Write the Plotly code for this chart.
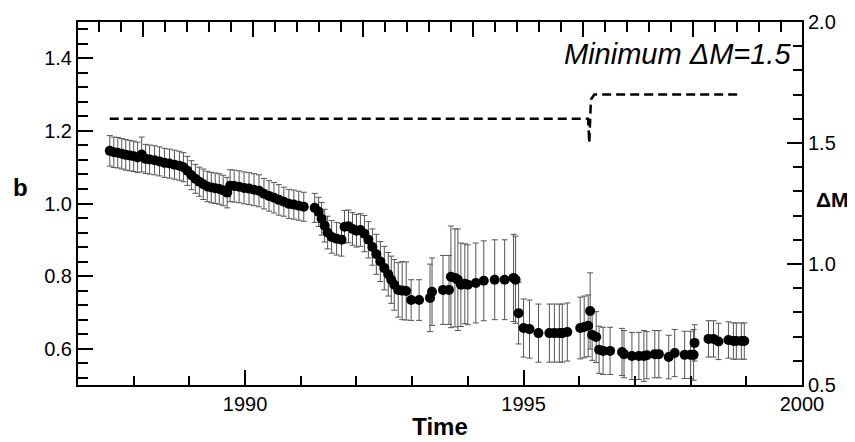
import plotly.graph_objects as go

# ---- data ----
time = [1987.571, 1987.643, 1987.714, 1987.786, 1987.857, 1987.929, 1988.000, 1988.071,
        1988.143, 1988.214, 1988.286, 1988.375, 1988.464, 1988.554, 1988.643, 1988.732,
        1988.821, 1988.893, 1988.964, 1989.036, 1989.107, 1989.179, 1989.250, 1989.321,
        1989.393, 1989.464, 1989.536, 1989.607, 1989.679, 1989.732, 1989.804, 1989.893,
        1989.982, 1990.071, 1990.161, 1990.250, 1990.339, 1990.429, 1990.518, 1990.607,
        1990.696, 1990.786, 1990.875, 1990.964, 1991.054,
        1991.250, 1991.321, 1991.375, 1991.429, 1991.482, 1991.554, 1991.643, 1991.732,
        1991.786, 1991.857, 1991.929, 1992.000, 1992.071, 1992.143, 1992.214, 1992.286,
        1992.357, 1992.429, 1992.500, 1992.571, 1992.625, 1992.679, 1992.750, 1992.821,
        1992.893,
        1992.982, 1993.125, 1993.321, 1993.357, 1993.554, 1993.661, 1993.696, 1993.768,
        1993.821, 1993.875, 1993.946, 1994.000, 1994.143, 1994.286, 1994.482, 1994.661,
        1994.821, 1994.857, 1994.911, 1995.000, 1995.107, 1995.268, 1995.464, 1995.554,
        1995.643, 1995.696, 1995.786, 1996.018, 1996.089, 1996.161, 1996.196, 1996.232,
        1996.304, 1996.357, 1996.429, 1996.554, 1996.768, 1996.804, 1996.946, 1997.071,
        1997.161, 1997.214, 1997.357, 1997.429, 1997.607, 1997.714, 1997.893, 1998.000,
        1998.054, 1998.071, 1998.321, 1998.411, 1998.500, 1998.679, 1998.768, 1998.821,
        1998.911, 1998.964]

b_value = [1.145, 1.141, 1.140, 1.137, 1.134, 1.132, 1.130, 1.127,
           1.135, 1.123, 1.121, 1.119, 1.116, 1.112, 1.110, 1.107,
           1.104, 1.100, 1.090, 1.078, 1.068, 1.060, 1.053, 1.047,
           1.044, 1.042, 1.040, 1.036, 1.030, 1.049, 1.048, 1.046,
           1.043, 1.041, 1.038, 1.035, 1.027, 1.021, 1.016, 1.010,
           1.005, 0.999, 0.997, 0.994, 0.991,
           0.988, 0.977, 0.958, 0.939, 0.920, 0.908, 0.903, 0.900,
           0.936, 0.937, 0.930, 0.925, 0.927, 0.917, 0.900, 0.880,
           0.860, 0.840, 0.822, 0.805, 0.790, 0.776, 0.762, 0.760,
           0.759,
           0.734, 0.734, 0.740, 0.757, 0.762, 0.762, 0.798, 0.795,
           0.790, 0.776, 0.779, 0.776, 0.781, 0.787, 0.790, 0.790,
           0.795, 0.790, 0.698, 0.657, 0.654, 0.643, 0.643, 0.643,
           0.643, 0.643, 0.646, 0.657, 0.660, 0.663, 0.704, 0.638,
           0.632, 0.597, 0.594, 0.594, 0.591, 0.585, 0.580, 0.580,
           0.580, 0.582, 0.585, 0.585, 0.577, 0.588, 0.583, 0.583,
           0.583, 0.616, 0.627, 0.627, 0.620, 0.624, 0.621, 0.621,
           0.621, 0.621]

b_error = [0.042, 0.042, 0.042, 0.042, 0.042, 0.042, 0.042, 0.042,
           0.048, 0.040, 0.040, 0.040, 0.040, 0.040, 0.040, 0.040,
           0.040, 0.040, 0.040, 0.040, 0.040, 0.040, 0.042, 0.042,
           0.042, 0.042, 0.042, 0.042, 0.042, 0.044, 0.044, 0.044,
           0.044, 0.044, 0.044, 0.044, 0.042, 0.042, 0.042, 0.042,
           0.040, 0.040, 0.040, 0.040, 0.040,
           0.040, 0.040, 0.045, 0.045, 0.045, 0.045, 0.045, 0.045,
           0.045, 0.045, 0.045, 0.045, 0.045, 0.050, 0.050, 0.050,
           0.055, 0.055, 0.060, 0.060, 0.065, 0.070, 0.075, 0.080,
           0.080,
           0.056, 0.056, 0.093, 0.093, 0.095, 0.095, 0.140, 0.135,
           0.140, 0.115, 0.110, 0.110, 0.110, 0.110, 0.110, 0.110,
           0.120, 0.120, 0.085, 0.080, 0.080, 0.080, 0.080, 0.080,
           0.080, 0.080, 0.080, 0.085, 0.085, 0.085, 0.105, 0.070,
           0.070, 0.065, 0.065, 0.065, 0.065, 0.065, 0.065, 0.065,
           0.070, 0.065, 0.065, 0.065, 0.060, 0.065, 0.065, 0.065,
           0.070, 0.050, 0.050, 0.050, 0.050, 0.050, 0.050, 0.050,
           0.050, 0.050]

dm_time = [1987.57, 1996.16, 1996.18, 1996.21, 1996.27, 1998.91]
dm_value = [1.60, 1.60, 1.50, 1.68, 1.70, 1.70]

x_ticks = [1990, 1995, 2000]
title_text = "<i>Minimum ΔM=1.5</i>"

FONT = "Liberation Sans, Arial, Helvetica, sans-serif"

fig = go.Figure()

fig.add_trace(go.Scatter(
    x=time, y=b_value, mode="markers",
    marker=dict(color="black", size=10),
    error_y=dict(type="data", array=b_error, visible=True,
                 color="#555555", thickness=1, width=3),
    showlegend=False, name="b",
))

fig.add_trace(go.Scatter(
    x=dm_time, y=dm_value, mode="lines", yaxis="y2",
    line=dict(color="black", width=2.5, dash="9px,5px"),
    showlegend=False, name="ΔM",
))

# invisible trace to activate the top axis
fig.add_trace(go.Scatter(x=[0], y=[1.0], xaxis="x2", mode="markers",
                         marker=dict(opacity=0), showlegend=False, hoverinfo="skip"))

axis_common = dict(showline=True, linecolor="black", linewidth=2, ticks="inside",
                   tickcolor="black", tickwidth=2, showgrid=False, zeroline=False,
                   automargin=False,
                   tickfont=dict(family=FONT, size=20, color="black"))

# the page body has an 8px margin, so the figure is drawn 8px smaller
fig.update_layout(
    width=847, height=434,
    margin=dict(l=70, r=53, t=14, b=57),
    paper_bgcolor="white", plot_bgcolor="white",
    xaxis=dict(range=[1987, 2000], tickvals=x_ticks, ticklen=15,
               minor=dict(dtick=1, tick0=1987, ticklen=9, tickwidth=2, tickcolor="black", ticks="inside"),
               title=dict(text="<b>Time</b>", font=dict(family=FONT, size=24, color="black"), standoff=4),
               **axis_common),
    xaxis2=dict(range=[-2.95, 29.95], overlaying="x", side="top", dtick=5, tick0=0, ticklen=15,
                showticklabels=False,
                minor=dict(dtick=1, tick0=0, ticklen=10, tickwidth=2, tickcolor="black", ticks="inside"),
                **axis_common),
    yaxis=dict(range=[0.5, 1.5], tick0=0.6, dtick=0.2, tickformat=".1f", ticklen=15,
               minor=dict(dtick=0.04, tick0=0.52, ticklen=10, tickwidth=2, tickcolor="black", ticks="inside"),
               **axis_common),
    yaxis2=dict(range=[0.5, 2.0], overlaying="y", side="right", tick0=0.5, dtick=0.5,
                tickformat=".1f", ticklen=15,
                minor=dict(dtick=0.1, tick0=0.5, ticklen=9, tickwidth=2, tickcolor="black", ticks="inside"),
                **axis_common),
    annotations=[
        dict(text=title_text, xref="paper", yref="paper", x=0.9875, y=0.912,
             xanchor="right", yanchor="middle", showarrow=False,
             font=dict(family=FONT, size=29, color="black")),
        dict(text="<b>b</b>", xref="paper", yref="paper", x=-0.079, y=0.545,
             xanchor="center", yanchor="middle", showarrow=False,
             font=dict(family=FONT, size=24, color="black")),
        dict(text="<b>ΔM</b>", xref="paper", yref="paper", x=1.017, y=0.51,
             xanchor="left", yanchor="middle", showarrow=False,
             font=dict(family=FONT, size=21, color="black")),
    ],
)

fig.write_html("out.html")
